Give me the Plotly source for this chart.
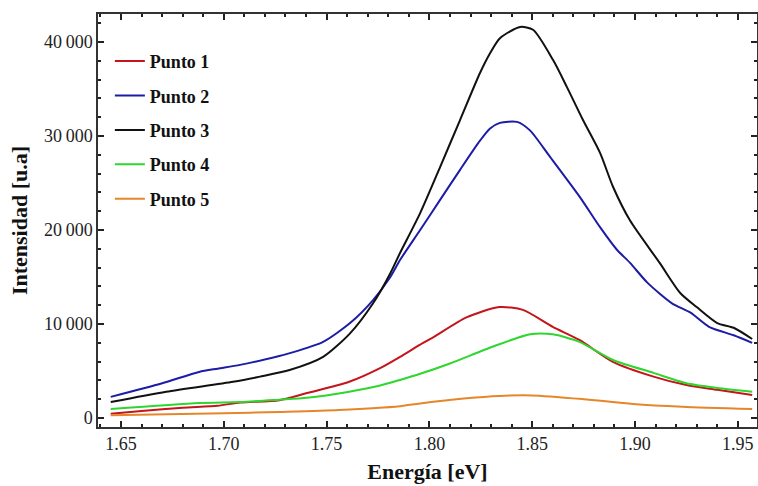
import plotly.graph_objects as go

# ---- data ----
e1 = [1.645, 1.660, 1.680, 1.697, 1.708, 1.727, 1.7405, 1.761, 1.776, 1.7857, 1.7955, 1.802, 1.818, 1.834, 1.8455, 1.860, 1.873, 1.889, 1.909, 1.925, 1.940, 1.957]
p1 = [450, 750, 1100, 1300, 1650, 1900, 2650, 3850, 5300, 6500, 7800, 8600, 10700, 11800, 11500, 9700, 8300, 6000, 4400, 3500, 3000, 2450]

e2 = [1.645, 1.670, 1.688, 1.697, 1.7079, 1.727, 1.7322, 1.7483, 1.7614, 1.7726, 1.781, 1.7857, 1.7955, 1.8052, 1.8149, 1.8246, 1.8295, 1.8343, 1.8426, 1.8489, 1.8586, 1.8732, 1.883, 1.8912, 1.8976, 1.906, 1.918, 1.927, 1.936, 1.948, 1.957]
p2 = [2250, 3700, 4900, 5250, 5650, 6600, 6900, 8100, 10100, 12550, 15000, 16800, 20000, 23200, 26400, 29500, 30800, 31400, 31500, 30600, 27800, 23500, 20300, 17900, 16500, 14400, 12200, 11200, 9700, 8800, 8000]

e3 = [1.645, 1.672, 1.7045, 1.7176, 1.732, 1.7483, 1.7614, 1.7726, 1.781, 1.7857, 1.7955, 1.8052, 1.8149, 1.8246, 1.8295, 1.8343, 1.8441, 1.8504, 1.8601, 1.8669, 1.8747, 1.883, 1.8893, 1.8976, 1.912, 1.922, 1.930, 1.940, 1.948, 1.957]
p3 = [1700, 2800, 3850, 4400, 5100, 6500, 9000, 12200, 15400, 17550, 21800, 26700, 31700, 36700, 38800, 40400, 41600, 41300, 38100, 35200, 31700, 28200, 24600, 21000, 16500, 13300, 11800, 10100, 9600, 8400]

e4 = [1.645, 1.688, 1.708, 1.727, 1.7405, 1.761, 1.776, 1.7857, 1.7955, 1.810, 1.831, 1.849, 1.860, 1.873, 1.889, 1.909, 1.925, 1.940, 1.957]
p4 = [950, 1600, 1700, 1950, 2150, 2800, 3450, 4050, 4700, 5800, 7600, 8900, 8900, 8100, 6200, 4800, 3700, 3200, 2800]

e5 = [1.645, 1.700, 1.727, 1.756, 1.7857, 1.7955, 1.818, 1.834, 1.850, 1.875, 1.899, 1.923, 1.957]
p5 = [300, 500, 650, 850, 1250, 1550, 2100, 2350, 2400, 2000, 1500, 1200, 950]

names = ["Punto 1", "Punto 2", "Punto 3", "Punto 4", "Punto 5"]
colors = ["#c4141c", "#1c1ca6", "#111111", "#2ed62e", "#e6862a"]

x_ticks = [1.65, 1.70, 1.75, 1.80, 1.85, 1.90, 1.95]
x_ticktext = ["1.65", "1.70", "1.75", "1.80", "1.85", "1.90", "1.95"]
y_ticks = [0, 10000, 20000, 30000, 40000]
y_ticktext = ["0", "10\u2009000", "20\u2009000", "30\u2009000", "40\u2009000"]

series = [(e1, p1), (e2, p2), (e3, p3), (e4, p4), (e5, p5)]

fig = go.Figure()
for (xs, ys), name, col in zip(series, names, colors):
    fig.add_trace(go.Scatter(x=xs, y=ys, mode="lines", name=name,
                             legendgroup=name,
                             line=dict(color=col, width=2, shape="spline", smoothing=0.7)))

serif = "Liberation Serif"
axis_common = dict(showline=True, mirror="ticks", linecolor="#333", linewidth=1.5,
                   ticks="inside", ticklen=6, tickwidth=1.5, tickcolor="#222",
                   showgrid=False, zeroline=False, automargin=False,
                   tickfont=dict(family=serif, size=18, color="#222"))

fig.update_layout(
    width=758, height=486,
    margin=dict(l=98, r=1, t=14, b=59),
    paper_bgcolor="white", plot_bgcolor="white",
    xaxis=dict(range=[1.63881, 1.95934], tickvals=x_ticks, ticktext=x_ticktext,
               minor=dict(dtick=0.01, ticks="inside", ticklen=3, tickwidth=1.5, tickcolor="#222"),
               title=dict(text="<b>Energía [eV]</b>", font=dict(family=serif, size=22, color="#111"), standoff=10),
               **axis_common),
    yaxis=dict(range=[-957, 42979], tickvals=y_ticks, ticktext=y_ticktext,
               minor=dict(dtick=2000, ticks="inside", ticklen=3, tickwidth=1.5, tickcolor="#222"),
               title=dict(text="<b>Intensidad [u.a]</b>", font=dict(family=serif, size=22, color="#111"), standoff=10),
               **axis_common),
    legend=dict(x=0.018, y=0.930, xanchor="left", yanchor="top",
                font=dict(family=serif, size=18, color="#111", weight="bold"),
                bgcolor="rgba(0,0,0,0)", tracegroupgap=8, itemwidth=30),
    showlegend=True,
)

fig.write_html("out.html", config={"displayModeBar": False},
               post_script="document.body.style.margin='0';")
